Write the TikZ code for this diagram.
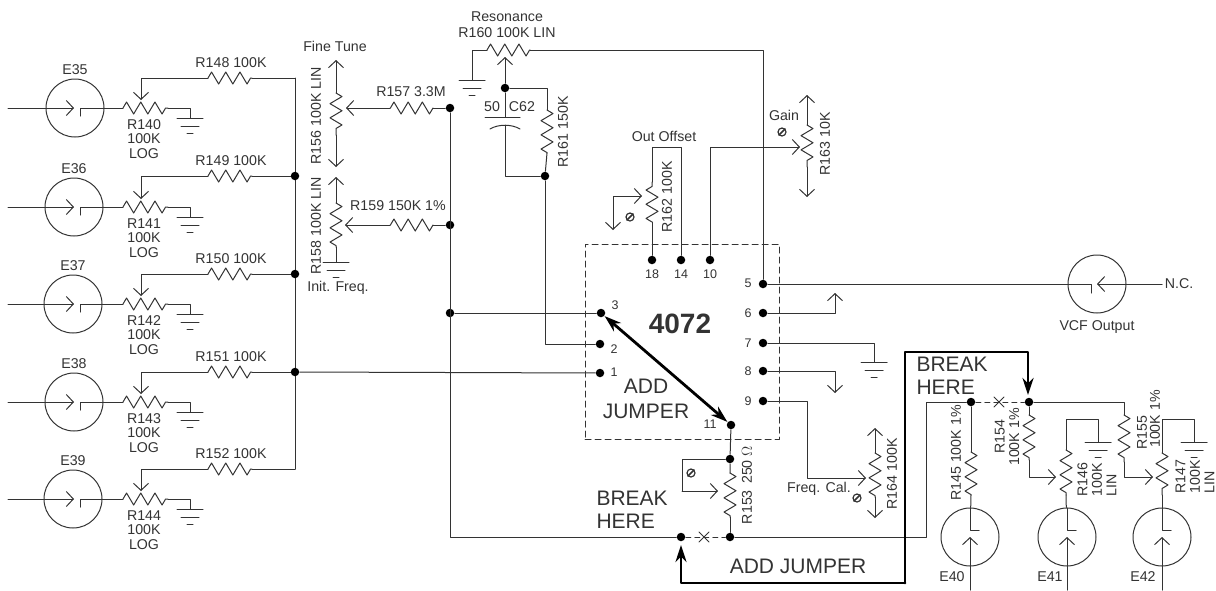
\documentclass[tikz,border=0pt]{standalone}
\usepackage{fontspec}
\setmainfont{Liberation Sans}
\usetikzlibrary{arrows.meta,decorations.pathmorphing}
\definecolor{ink}{gray}{0.2}
\tikzset{
  res/.style={decorate,decoration={zigzag,segment length=14.2pt,amplitude=6pt}},
  junc/.style={circle,fill=black,inner sep=0pt,minimum size=8.5pt},
  jack/.style={circle,draw,inner sep=0pt,minimum size=58pt},
  lbl/.style={inner sep=0pt,align=center,text=ink},
  pinlbl/.style={lbl,font=\fontsize{12.5}{14}\selectfont},
  biglbl/.style={inner sep=0pt,align=left,text=ink,font=\fontsize{21}{22}\selectfont},
  jumper/.style={line width=2.8pt,black,-{Stealth[length=17pt,width=11pt]}},
  gnd/.pic={\draw (-13,0)--(13,0) (-9,8)--(9,8) (-3,15)--(3,15);},
  screw/.pic={\draw[fill=white,line width=1.2pt] (0,0) circle (4pt); \draw[line width=1.6pt] (-3,3)--(3,-3);}
}
\begin{document}
\begin{tikzpicture}[line join = round, line cap = round,>={Straight Barb[length=7pt,width=15pt]},x = 1pt,y = -1pt,font=\fontsize{14.2}{14.5}\selectfont,draw=ink,line width=1pt]
    \useasboundingbox (0,0) rectangle (1216,590);
    %Input jacks and their level pots
    \foreach \e/\x/\y/\rp/\rs/\wy in {35/75/108/140/148/78,36/74/207/141/149/176,37/73/304/142/150/274,38/74/402/143/151/372,39/73/499/144/152/469}{
        \node[jack] (jack\e) at (\x,\y) {};
        \node[lbl] (tE\e) at (\x,\y-38) {E\e};
        \node[lbl] (tR\rp) at (144,\y+31) {R\rp\\100K\\LOG};
        \node[lbl] (tR\rs) at (231,\wy-15) {R\rs{} 100K};
        \coordinate (in\e) at (8,\y);
        \coordinate (a\e) at (123,\y);
        \coordinate (b\e) at (168,\y);
        \coordinate (g\e) at (190,\y+10);
        \coordinate (w\e) at (208,\wy);
        \coordinate (v\e) at (252,\wy);
        \coordinate (bus\e) at (295,\wy);
        \draw[->] (in\e) -- (74,\y);
        \draw (80,\y+8) -- (80,\y) -- (a\e);
        \draw[res] (a\e) -- (b\e);
        \draw (b\e) -| (g\e) pic {gnd};
        \draw[->] (w\e) -| (141,\y-8);
        \draw[res] (w\e) -- (v\e);
        \draw (v\e) -- (bus\e);
    }
    \draw (bus35) -- (bus39);
    \foreach \e in {36,37,38} \node[junc] (jb\e) at (bus\e) {};
    %Chip with its pins
    \node[draw,dashed,dash pattern=on 6pt off 4pt,minimum width=194pt,minimum height=195pt,inner sep=0pt] (ic) at (682,341.5) {};
    \node[inner sep=0pt,text=ink,font=\fontsize{28}{30}\selectfont\bfseries] (name) at (680,324) {4072};
    \foreach \p/\x/\y/\lx/\ly in {18/652/260/652/274,14/681/260/681/274,10/710/260/710/274,3/601/313/615/305,2/600/344/614/349,1/600/373/614/372,5/763/284/748/283,6/763/313/748/313,7/763/343/748/343,8/763/371/748/371,9/763/401/748/401,11/731/425/710/424}{
        \node[junc] (p\p) at (\x,\y) {};
        \node[pinlbl] (tp\p) at (\lx,\ly) {\p};
    }
    %Tune pots
    \coordinate (fineA) at (336,60);
    \coordinate (fineB) at (336,93);
    \coordinate (fineC) at (336,135);
    \coordinate (fineD) at (336,167);
    \draw[<-] (fineA) -- (fineB);
    \draw[res] (fineB) -- (fineC);
    \draw[->] (fineC) -- (fineD);
    \coordinate (initA) at (336,177);
    \coordinate (initB) at (336,203);
    \coordinate (initC) at (336,247);
    \coordinate (initD) at (336,262);
    \draw[<-] (initA) -- (initB);
    \draw[res] (initB) -- (initC);
    \draw (initC) -- (initD) pic {gnd};
    \node[lbl] (tFine) at (335,46) {Fine Tune};
    \node[lbl,rotate=90] (tR156) at (316,116) {R156 100K LIN};
    \node[lbl,rotate=90] (tR158) at (316,226) {R158 100K LIN};
    \node[lbl] (tInit) at (338,288) {Init. Freq.};
    \node[junc] (ja) at (450,108) {};
    \node[junc] (jb) at (450,225) {};
    \node[junc] (jc) at (450,313) {};
    \draw[->] (390,108) -- (346,108);
    \draw[res] (433,108) -- (390,108);
    \draw (ja) -- (433,108);
    \draw[->] (390,225) -- (345,225);
    \draw[res] (433,225) -- (390,225);
    \draw (jb) -- (433,225);
    \node[lbl] (tR157) at (411,92) {R157 3.3M};
    \node[lbl] (tR159) at (398,206) {R159 150K 1\%};
    \draw (jb38) -- (p1);
    \draw (jc) -- (p3);
    %Resonance
    \node[lbl] (tRes) at (507,17) {Resonance};
    \node[lbl] (tR160) at (507,33) {R160 100K LIN};
    \coordinate (resA) at (487,50);
    \coordinate (resB) at (530,50);
    \draw[res] (resA) -- (resB);
    \draw (resA) -| (472,80) pic {gnd};
    \draw (resB) -| (p5);
    \node[junc] (jd) at (505,88) {};
    \node[junc] (je) at (545,176) {};
    \draw[->] (jd) -- (505,57);
    \draw (jd) -| (547,110);
    \draw[res] (547,110) -- (547,153);
    \draw (547,153) -- (je);
    \draw (jd) -- (505,117);
    \draw (485,117) -- (520,117);
    \draw (490,129) .. controls (498,124) and (512,124) .. (520,129);
    \draw (505,125) |- (je);
    \draw (je) |- (p2);
    \node[lbl] (tC) at (492,107) {50};
    \node[lbl] (tC62) at (522,107) {C62};
    \node[lbl,rotate=90] (tR161) at (563,132) {R161 150K};
    %Offset and gain
    \node[lbl] (tOff) at (664,136) {Out Offset};
    \draw (p18) -- (652,222);
    \draw[res] (652,222) -- (652,182);
    \draw (652,182) -- (652,147) -| (p14);
    \draw[<->] (613,230) |- (642,196);
    \path (630,217) pic {screw};
    \node[lbl,rotate=90] (tR162) at (667,197) {R162 100K};
    \draw[->] (p10) |- (800,147);
    \draw[<-] (807,95) -- (807,125);
    \draw[res] (807,125) -- (807,167);
    \draw[->] (807,167) -- (807,197);
    \node[lbl] (tGain) at (784,115) {Gain};
    \path (782,132) pic {screw};
    \node[lbl,rotate=90] (tR163) at (825,144) {R163 10K};
    %Output side of the chip
    \node[jack] (vcf) at (1097,284) {};
    \draw (p5) -- (1091,284) -- (1091,293);
    \draw[->] (1162,284) -- (1097,284);
    \node[lbl] (tNC) at (1179,284) {N.C.};
    \node[lbl] (tVCF) at (1097,327) {VCF Output};
    \draw[->] (p6) -| (835,293);
    \draw (p7) -| (874,362) pic {gnd};
    \draw[->] (p8) -| (835,393);
    \draw[->] (p9) -| (807,478) -- (866,478);
    \draw[<-] (875,428) -- (875,453);
    \draw[res] (875,453) -- (875,497);
    \draw[->] (875,497) -- (875,518);
    \node[lbl] (tCal) at (819,489) {Freq. Cal.};
    \path (857,498) pic {screw};
    \node[lbl,rotate=90] (tR164) at (892,474) {R164 100K};
    %R153 and the break below it
    \node[junc] (jf) at (730,459) {};
    \node[junc] (jg) at (730,537) {};
    \node[junc] (jh) at (681,537) {};
    \draw (p11) -- (jf) -- (730,473);
    \draw[res] (730,473) -- (730,517);
    \draw (730,517) -- (jg);
    \draw (jf) -| (682,491);
    \draw[->] (682,491) -- (718,491);
    \path (691,473) pic {screw};
    \node[lbl,rotate=90] (tR153) at (747,485) {R153\, 250 $\Omega$};
    \draw (ja) |- (jh);
    \draw[dashed,dash pattern=on 5pt off 4pt] (jh) -- (jg);
    \draw (699,532) -- (709,542) (709,532) -- (699,542);
    %Right hand jacks
    \node[junc] (ji) at (971,402) {};
    \node[junc] (jj) at (1029,402) {};
    \draw (jg) -| (926,402) -- (ji);
    \draw[dashed,dash pattern=on 5pt off 4pt] (ji) -- (jj);
    \draw (994,397) -- (1004,407) (1004,397) -- (994,407);
    \draw (jj) -| (1124,415);
    \foreach \e/\x/\lx in {40/970/952,41/1067/1050,42/1162/1143}{
        \node[jack] (jack\e) at (\x,537) {};
        \node[lbl] (tE\e) at (\lx,577) {E\e};
        \draw (\x,508) -- (\x,530) -- (\x+9,530);
        \draw[->] (\x,590) -- (\x,537);
    }
    \draw (ji) -- (971,452);
    \draw[res] (971,452) -- (971,495);
    \draw (971,495) -- (jack40);
    \node[lbl,rotate=90] (tR145) at (956,453) {R145 100K 1\%};
    \draw (jj) -- (1029,415);
    \draw[res] (1029,415) -- (1029,460);
    \draw[->] (1029,460) |- (1056,477);
    \node[lbl,rotate=90] (tR154) at (1007,437) {R154\\100K 1\%};
    \draw[res] (1124,415) -- (1124,462);
    \draw[->] (1124,462) |- (1153,477);
    \node[lbl,rotate=90] (tR155) at (1142,433) {R155};
    \node[lbl,rotate=90] (tR155v) at (1155,419) {100K 1\%};
    \draw (1066,450) -- (1066,419) -| (1098,442) pic {gnd};
    \draw[res] (1066,450) -- (1066,495);
    \draw (1066,495) -- (jack41);
    \node[lbl,rotate=90,align=left,anchor=west] (tR146) at (1097,497) {R146\\100K\\LIN};
    \draw (1162,453) -- (1162,419) -| (1194,442) pic {gnd};
    \draw[res] (1162,453) -- (1162,495);
    \draw (1162,495) -- (jack42);
    \node[lbl,rotate=90,align=left,anchor=west] (tR147) at (1195,494) {R147\\100K\\LIN};
    %Jumper marks
    \coordinate (hopA) at (681,583);
    \coordinate (hopB) at (905,583);
    \coordinate (hopC) at (905,352);
    \coordinate (hopD) at (1028,352);
    \draw[jumper] (hopB) -- (hopA) -- (681,545);
    \draw[jumper] (hopB) -- (hopC) -- (hopD) -- (1028,395);
    \draw[jumper,{Stealth[length=17pt,width=11pt]}-{Stealth[length=17pt,width=11pt]}] (p3) -- (p11);
    \node[biglbl,align=center] (tAdd) at (646,398.5) {ADD\\[3pt]JUMPER};
    \node[biglbl,anchor=west] (tBreakA) at (596,510) {BREAK\\[1pt]HERE};
    \node[biglbl,anchor=west] (tBreakB) at (916,376) {BREAK\\[1pt]HERE};
    \node[biglbl] (tAddB) at (798,566) {ADD JUMPER};
\end{tikzpicture}
\end{document}
